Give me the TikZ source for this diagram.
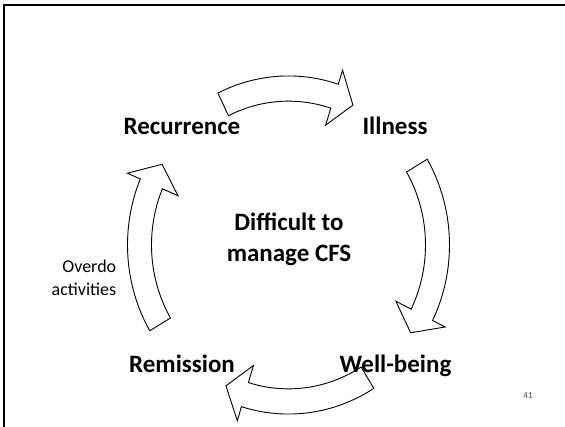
\documentclass[tikz,border=0pt]{standalone}
\usepackage{fontspec}
\setmainfont{Carlito}

% Curved block arrow on the cycle: #1 tail angle, #2 head-base angle, #3 tip angle
\newcommand\bandarrow[3]{%
  \draw[arrowband] (#1:161) arc[start angle=#1, end angle=#2, radius=161]
    -- (#2:175) -- (#3:148) -- (#2:120) -- (#2:137)
    arc[start angle=#2, end angle=#1, radius=137] -- cycle;}

\begin{document}
\begin{tikzpicture}[x=1pt,y=1pt,
  arrowband/.style={draw=black, line width=0.9pt, fill=white, line join=miter},
  stagelabel/.style={font=\fontsize{25}{30}\selectfont\bfseries, inner sep=0pt, anchor=base},
  notelabel/.style={font=\fontsize{18}{22}\selectfont, inner sep=0pt, anchor=base east},
  pagenum/.style={font=\fontsize{9}{10}\selectfont, text=black!75, inner sep=0pt},
]
\useasboundingbox (0,0) rectangle (565,426);
\clip (0,0) rectangle (565,426);

% slide frame
\draw[line width=2.3pt] (3.8,-20) -- (3.8,421) -- (600,421);

% the four arrows of the cycle, running clockwise
\begin{scope}[shift={(288.5,181)}, yscale=1.05]
  \bandarrow{116}{72}{64.2}
  \bandarrow{30.5}{-26.5}{-34.4}
  \bandarrow{-58}{-107}{-115}
  \bandarrow{210.5}{157}{148.7}
\end{scope}

% stage labels
\node[stagelabel] (recurrence) at (182,291) {Recurrence};
\node[stagelabel] (illness) at (395,291) {Illness};
\node[stagelabel] (wellbeing) at (395.5,54) {Well-being};
\node[stagelabel] (remission) at (182,54) {Remission};

% centre caption
\node[stagelabel] (centretop) at (289,195.4) {Difficult to};
\node[stagelabel] (centrebottom) at (289,164.7) {manage CFS};

% note beside the left arrow
\node[notelabel] (overdo) at (116.4,153) {Overdo};
\node[notelabel] (activities) at (116.4,130.5) {activities};

\node[pagenum] (page) at (528,30) {41};
\end{tikzpicture}
\end{document}
